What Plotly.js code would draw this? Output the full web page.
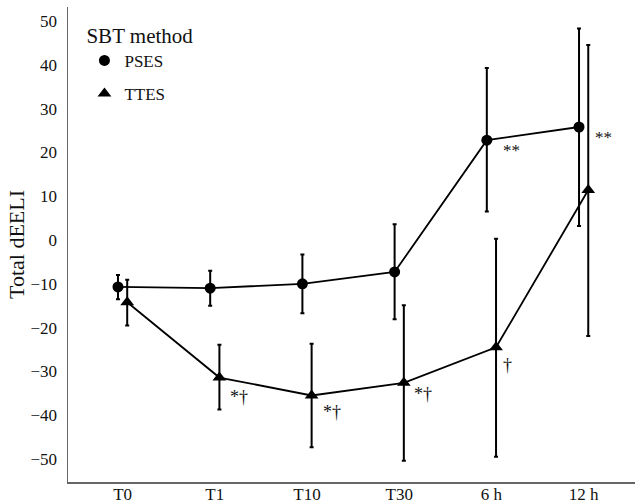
<!DOCTYPE html>
<html>
<head>
<meta charset="utf-8">
<script src="https://cdn.plot.ly/plotly-3.0.1.min.js"></script>
<style>html,body{margin:0;padding:0;background:#fff;}#chart{width:635px;height:504px;}</style>
</head>
<body>
<div id="chart"></div>
<script>
const categories = ["T0", "T1", "T10", "T30", "6 h", "12 h"];
const psesMean = [-10.7, -11.0, -10.0, -7.3, 22.8, 25.8];
const psesUpper = [-8.0, -7.0, -3.3, 3.6, 39.3, 48.3];
const psesLower = [-13.5, -15.0, -16.7, -18.1, 6.5, 3.2];
const ttesMean = [-14.2, -31.4, -35.5, -32.6, -24.5, 11.4];
const ttesUpper = [-9.1, -23.9, -23.7, -14.9, 0.3, 44.5];
const ttesLower = [-19.5, -38.7, -47.3, -50.4, -49.5, -21.9];
const annoText = ["*†", "*†", "*†", "†", "**", "**"];
const annoCat = [1, 2, 3, 4, 4, 5];
const annoY = [-35.8, -39.3, -35.2, -28.5, 20.5, 23.5];

const dodge = 0.05;
const idx = categories.map((c, i) => i);
const xP = idx.map(i => i - dodge);
const xT = idx.map(i => i + dodge);
const errP = {type: 'data', symmetric: false,
  array: psesUpper.map((u, i) => u - psesMean[i]),
  arrayminus: psesMean.map((m, i) => m - psesLower[i]),
  color: '#000', thickness: 2, width: 2};
const errT = {type: 'data', symmetric: false,
  array: ttesUpper.map((u, i) => u - ttesMean[i]),
  arrayminus: ttesMean.map((m, i) => m - ttesLower[i]),
  color: '#000', thickness: 2, width: 2};

const traces = [
  {x: xP, y: psesMean, mode: 'lines', line: {color: '#000', width: 1.8}, showlegend: false, hoverinfo: 'skip'},
  {x: xT, y: ttesMean, mode: 'lines', line: {color: '#000', width: 1.8}, showlegend: false, hoverinfo: 'skip'},
  {x: xP, y: psesMean, mode: 'markers', name: 'PSES', legendgroup: 'a',
   marker: {symbol: 'circle', size: 11, color: '#000'}, error_y: errP},
  {x: xT, y: ttesMean, mode: 'markers', name: 'TTES', legendgroup: 'b',
   marker: {symbol: 'triangle-up', size: 12, color: '#000'}, error_y: errT}
];

const annoDx = [0.26, 0.27, 0.26, 0.17, 0.22, 0.22];
const annotations = annoText.map((t, i) => ({
  x: annoCat[i] + annoDx[i],
  y: annoY[i], xref: 'x', yref: 'y', text: t, showarrow: false,
  font: {family: 'Liberation Serif, Times New Roman, serif', size: t === '**' ? 17 : 18, color: '#111'}
}));

const layout = {
  width: 635, height: 504,
  margin: {l: 68, r: 0, t: 7, b: 22},
  paper_bgcolor: '#fff', plot_bgcolor: '#fff',
  font: {family: 'Liberation Serif, Times New Roman, serif', color: '#111', size: 16},
  showlegend: true,
  legend: {x: 0.029, y: 0.982, xanchor: 'left', yanchor: 'top',
    title: {text: 'SBT method', font: {size: 21}, side: 'top'},
    font: {size: 17}, tracegroupgap: 8, bgcolor: 'rgba(0,0,0,0)'},
  xaxis: {range: [-0.592, 5.557], tickmode: 'array', tickvals: idx, ticktext: categories,
    showgrid: false, zeroline: false, showline: true, linecolor: '#666', linewidth: 1.5,
    ticks: '', ticklabelstandoff: -4, tickfont: {size: 17}, mirror: false},
  yaxis: {range: [-55.25, 53.2], tickvals: [-50, -40, -30, -20, -10, 0, 10, 20, 30, 40, 50],
    showgrid: false, zeroline: false, showline: true, linecolor: '#666', linewidth: 1.5,
    ticks: '', ticklabelstandoff: 6, tickfont: {size: 17},
    title: {text: 'Total dEELI', font: {size: 22}, standoff: 0}},
  annotations: annotations
};

Plotly.newPlot('chart', traces, layout, {displayModeBar: false, staticPlot: true});
</script>
</body>
</html>
